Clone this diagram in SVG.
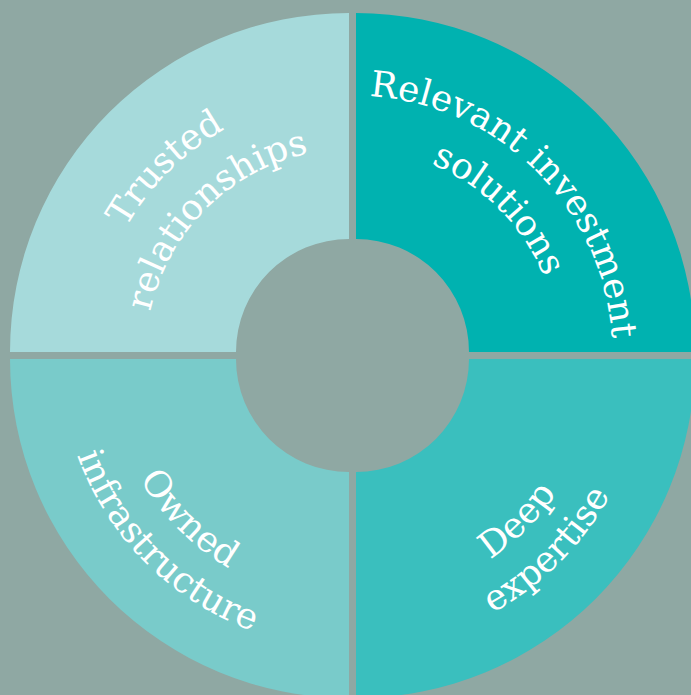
<svg xmlns="http://www.w3.org/2000/svg" xmlns:xlink="http://www.w3.org/1999/xlink" width="691" height="695" viewBox="0 0 691 695">
<style>
.lbl{font-family:"DejaVu Serif","Liberation Serif",serif;font-size:36px;fill:#ffffff;}
</style>
<defs>
<path id="tl1" d="M 92.5 355.5 A 260 260 0 0 1 352.5 95.5"/>
<path id="tl2" d="M 145.5 355.5 A 207 207 0 0 1 352.5 148.5"/>
<path id="tr1" d="M 352.5 95.5 A 260 260 0 0 1 612.5 355.5"/>
<path id="tr2" d="M 352.5 148.5 A 207 207 0 0 1 559.5 355.5"/>
<path id="bl1" d="M 106.5 355.5 A 246 246 0 0 0 352.5 601.5"/>
<path id="bl2" d="M 59.5 355.5 A 293 293 0 0 0 352.5 648.5"/>
<path id="br1" d="M 352.5 601.5 A 246 246 0 0 0 598.5 355.5"/>
<path id="br2" d="M 352.5 648.5 A 293 293 0 0 0 645.5 355.5"/>
</defs>
<rect width="691" height="695" fill="#8fa8a3"/>
<g id="connectors"></g>
<g id="trusted">
<path d="M 10 352 A 339 339 0 0 1 349 13 L 349 239 A 113 113 0 0 0 236 352 Z" fill="#a6dadb"/>
<text class="lbl" text-anchor="middle"><textPath xlink:href="#tl1" href="#tl1" startOffset="50%">Trusted</textPath></text>
<text class="lbl" text-anchor="middle"><textPath xlink:href="#tl2" href="#tl2" startOffset="50%">relationships</textPath></text>
</g>
<g id="relevant">
<path d="M 356 13 A 339 339 0 0 1 695 352 L 469 352 A 113 113 0 0 0 356 239 Z" fill="#00b2b0"/>
<text class="lbl" text-anchor="middle"><textPath xlink:href="#tr1" href="#tr1" startOffset="50%">Relevant investment</textPath></text>
<text class="lbl" text-anchor="middle"><textPath xlink:href="#tr2" href="#tr2" startOffset="50%">solutions</textPath></text>
</g>
<g id="owned">
<path d="M 10 359 A 339 339 0 0 0 349 698 L 349 472 A 113 113 0 0 1 236 359 Z" fill="#79cbca"/>
<text class="lbl" text-anchor="middle"><textPath xlink:href="#bl1" href="#bl1" startOffset="50%">Owned</textPath></text>
<text class="lbl" text-anchor="middle"><textPath xlink:href="#bl2" href="#bl2" startOffset="50%">infrastructure</textPath></text>
</g>
<g id="deep">
<path d="M 356 698 A 339 339 0 0 0 695 359 L 469 359 A 113 113 0 0 1 356 472 Z" fill="#3abfbe"/>
<text class="lbl" text-anchor="middle"><textPath xlink:href="#br1" href="#br1" startOffset="50%">Deep</textPath></text>
<text class="lbl" text-anchor="middle"><textPath xlink:href="#br2" href="#br2" startOffset="50%">expertise</textPath></text>
</g>
</svg>
